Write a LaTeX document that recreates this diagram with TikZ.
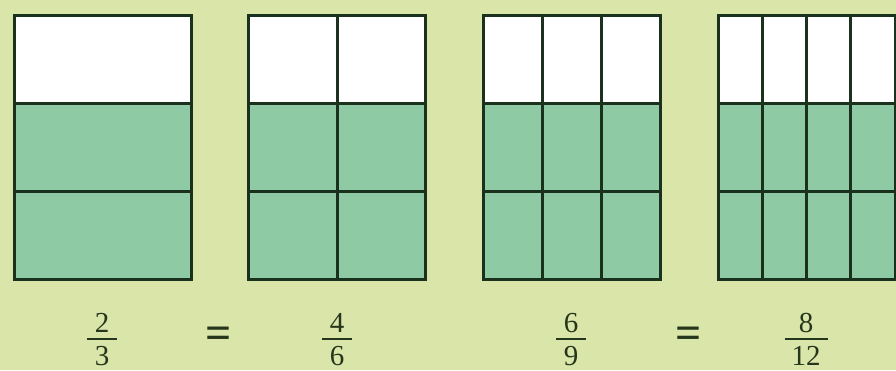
\documentclass[tikz,border=0pt]{standalone}
\usepackage{fontspec}
\setmainfont{Liberation Serif}
\definecolor{bg}{HTML}{DAE6A9}
\definecolor{cellgreen}{HTML}{8ECBA4}
\definecolor{gridline}{HTML}{1A311E}
\definecolor{txt}{HTML}{26361C}
\begin{document}
\begin{tikzpicture}[x=1pt,y=-1pt,
  gridlines/.style={draw=gridline,line width=3pt,line cap=rect},
  digit/.style={inner sep=0pt,anchor=base,text=txt,font=\fontsize{29}{34}\selectfont},
  eqsign/.style={inner sep=0pt,text=txt,font=\fontsize{46}{54}\selectfont\bfseries},
  fracbar/.style={draw=txt,line width=2pt}]
\useasboundingbox (0,0) rectangle (896,370);
\fill[bg] (0,0) rectangle (896,370);
% boxes: left x, columns n
\foreach \lx/\n in {14/1,248.5/2,483/3,718/4}{
  \fill[white] (\lx,15) rectangle ({\lx+177},103);
  \fill[cellgreen] (\lx,103) rectangle ({\lx+177},279);
  \draw[gridlines] (\lx,15) rectangle ({\lx+177},279);
  \draw[gridlines] (\lx,103) -- ({\lx+177},103);
  \draw[gridlines] (\lx,191) -- ({\lx+177},191);
  \ifnum\n>1
    \foreach \k in {2,...,\n}{
      \draw[gridlines] ({\lx+177*(\k-1)/\n},15) -- ({\lx+177*(\k-1)/\n},279);
    }
  \fi
}
% fractions
\node[digit] (n1) at (102,332) {2};
\node[digit] (d1) at (102,365) {3};
\draw[fracbar] (87,339) -- (117,339);
\node[eqsign] (eq1) at (219,338) {=};
\node[digit] (n2) at (337,332) {4};
\node[digit] (d2) at (337,365) {6};
\draw[fracbar] (322,339) -- (352,339);
\node[digit] (n3) at (571,332) {6};
\node[digit] (d3) at (571,365) {9};
\draw[fracbar] (556,339) -- (586,339);
\node[eqsign] (eq2) at (689,338) {=};
\node[digit] (n4) at (806,332) {8};
\node[digit] (d4) at (806,365) {12};
\draw[fracbar] (784.5,339) -- (827.5,339);
\end{tikzpicture}
\end{document}
